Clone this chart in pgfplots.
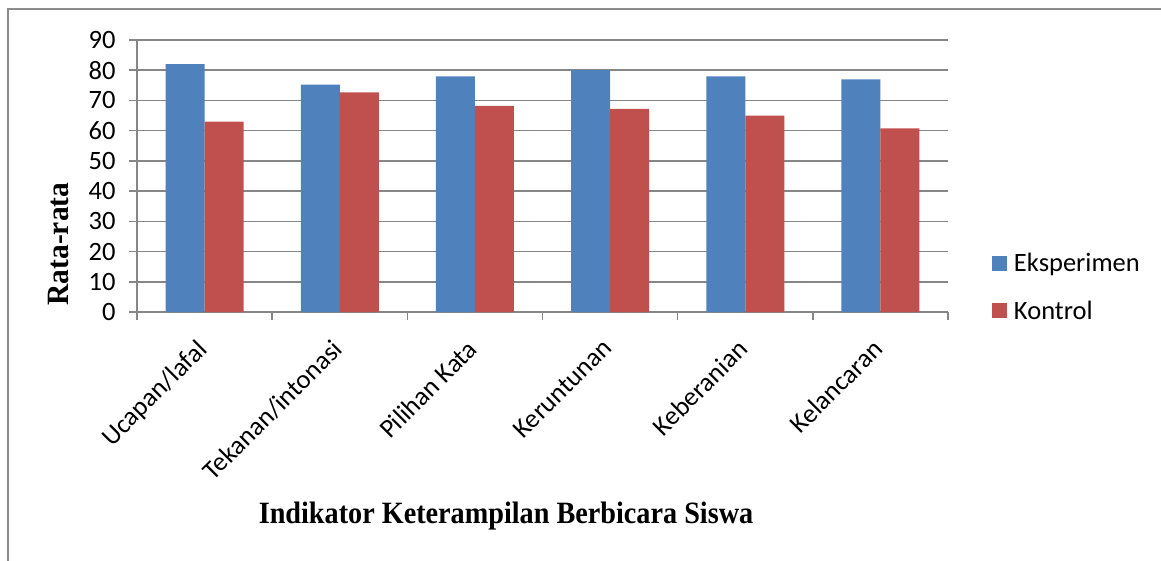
\documentclass[border=0pt]{standalone}
\usepackage{graphicx}
\usepackage{fontspec}
\setmainfont{Carlito}
\newfontfamily\tnr{Liberation Serif}
\usepackage{pgfplots}
\pgfplotsset{compat=1.18}
\definecolor{cblue}{RGB}{79,129,189}
\definecolor{cred}{RGB}{192,80,77}
\definecolor{cgrid}{RGB}{134,134,134}
\definecolor{cframe}{RGB}{140,140,140}
\begin{document}
\begin{tikzpicture}[x=1pt,y=1pt]
\useasboundingbox (0,0) rectangle (1161,560);
\draw[cframe, line width=2pt] (7.5,-10) -- (7.5,551) -- (1175,551);
\begin{axis}[
  at={(137pt,248pt)}, anchor=south west,
  scale only axis, width=811pt, height=272pt,
  ybar=0pt, bar width=39pt,
  xmin=-0.5, xmax=5.5, ymin=0, ymax=90,
  enlargelimits=false,
  ytick={0,10,...,90},
  xtick={0,1,2,3,4,5},
  xticklabels={Ucapan/lafal,Tekanan/intonasi,Pilihan Kata,Keruntunan,Keberanian,Kelancaran},
  minor xtick={-0.5,0.5,1.5,2.5,3.5,4.5,5.5},
  axis lines*=left,
  ymajorgrids,
  major grid style={cgrid,line width=1.5pt},
  axis line style={cgrid,line width=1.5pt},
  tick align=outside,
  major tick length=8pt, minor tick length=8pt,
  major x tick style={draw=none},
  minor x tick style={cgrid,line width=1.5pt},
  major y tick style={cgrid,line width=1.5pt},
  /pgf/number format/assume math mode=true,
  ticklabel style={font=\fontsize{26.5}{30}\selectfont},
  yticklabel style={xshift=-10pt},
  xticklabel style={xshift=-9pt, yshift=-15pt, rotate=45, anchor=north east, inner sep=2pt},
  xlabel={\scalebox{0.91}[1]{\tnr\bfseries Indikator Keterampilan Berbicara Siswa}},
  xlabel style={at={(axis description cs:0.455,-0.779)}, anchor=base, font=\fontsize{31}{36}\selectfont},
  ylabel={\scalebox{0.95}[1]{\tnr\bfseries Rata-rata}},
  ylabel style={at={(axis description cs:-0.085,0.25)}, anchor=base, font=\fontsize{31}{36}\selectfont},
  legend style={at={(1.054,0.092)}, anchor=west, draw=none, fill=none,
    font=\fontsize{26.5}{30}\selectfont, row sep=24pt, column sep=5pt, inner sep=0pt},
  legend cell align=left,
  legend image code/.code={\fill[#1] (0pt,-7.5pt) rectangle (15pt,7.5pt);},
]
\addplot[fill=cblue, draw=none] coordinates {(0,82) (1,75.2) (2,78) (3,80) (4,78) (5,77)};
\addplot[fill=cred, draw=none] coordinates {(0,63) (1,72.7) (2,68.2) (3,67.2) (4,65) (5,60.8)};
\legend{Eksperimen,Kontrol}
\end{axis}
\end{tikzpicture}
\end{document}
